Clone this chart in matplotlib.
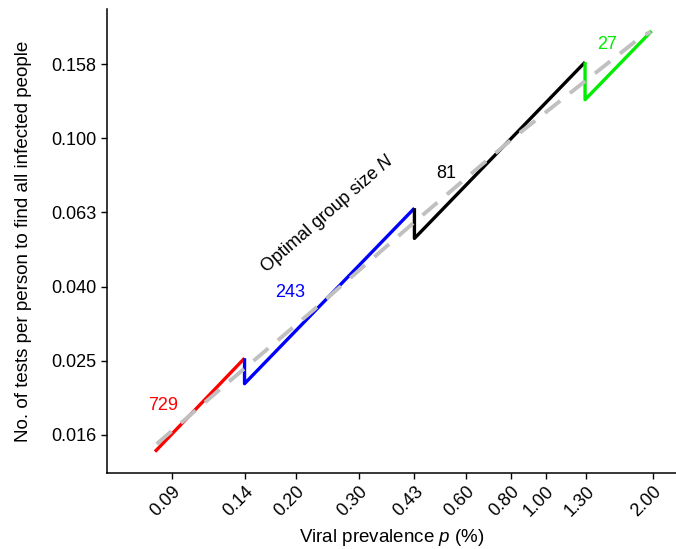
import matplotlib
matplotlib.use("Agg")
import matplotlib.pyplot as plt
import numpy as np

plt.rcParams['font.family'] = ['Liberation Sans', 'DejaVu Sans']
plt.rcParams['mathtext.fontset'] = 'custom'
plt.rcParams['mathtext.it'] = 'Liberation Sans:italic'
plt.rcParams['mathtext.rm'] = 'Liberation Sans'

# Optimal group size segments (prevalence in %, tests per person)
red_p = [0.0809, 0.144]
red_y = [0.01427, 0.0255]
blue_p = [0.144, 0.144, 0.430]
blue_y = [0.0255, 0.02177, 0.0648]
black_p = [0.430, 0.430, 1.29]
black_y = [0.0648, 0.0537, 0.1606]
green_p = [1.29, 1.29, 1.98]
green_y = [0.1606, 0.1272, 0.1949]

# Theoretical bound (dashed grey)
bound_p = [0.0818, 0.1283, 0.2242, 0.4314, 0.8124, 1.837, 1.968]
bound_y = [0.01497, 0.02177, 0.03437, 0.05961, 0.1002, 0.1869, 0.1941]

x_ticks = [0.09, 0.144, 0.20, 0.30, 0.43, 0.60, 0.80, 1.00, 1.30, 2.00]
x_ticklabels = ['0.09', '0.14', '0.20', '0.30', '0.43', '0.60', '0.80', '1.00', '1.30', '2.00']
y_ticks = [10**-0.8, 10**-1.0, 10**-1.2, 10**-1.4, 10**-1.6, 10**-1.8]
y_ticklabels = ['0.158', '0.100', '0.063', '0.040', '0.025', '0.016']

group_labels = ['729', '243', '81', '27']
group_colors = ['#ff0000', '#0000ff', '#000000', '#00ee00']
label_p = [0.0851, 0.1929, 0.5278, 1.485]
label_y = [0.01901, 0.03835, 0.0806, 0.1793]

fig = plt.figure(figsize=(6.76, 5.49), dpi=100)
ax = fig.add_axes([0.1583, 0.139, 0.8417, 0.844])
ax.set_xscale('log')
ax.set_yscale('log')

lw = 2.4
ax.plot(red_p, red_y, color=group_colors[0], lw=lw, zorder=2, solid_capstyle='butt')
ax.plot(blue_p, blue_y, color=group_colors[1], lw=lw, zorder=2, solid_capstyle='butt')
ax.plot(black_p, black_y, color=group_colors[2], lw=lw, zorder=2, solid_capstyle='butt')
ax.plot(green_p, green_y, color=group_colors[3], lw=lw, zorder=2, solid_capstyle='butt')
ax.plot(bound_p, bound_y, color='#c0c0c0', lw=2.8, ls=(0, (5, 3.2)), zorder=3)

for t, c, px, py in zip(group_labels, group_colors, label_p, label_y):
    ax.text(px, py, t, color=c, fontsize=13, ha='center', va='center')

ax.text(0.2461, 0.0625, 'Optimal group size $N$', fontsize=13, rotation=41,
        ha='center', va='center', rotation_mode='anchor')

ax.set_xlim(0.0594, 2.317)
ax.set_ylim(0.01252, 0.2230)
ax.minorticks_off()
ax.set_xticks(x_ticks)
ax.set_xticklabels(x_ticklabels, rotation=45, ha='right', va='top', rotation_mode='anchor')
ax.set_yticks(y_ticks)
ax.set_yticklabels(y_ticklabels)
ax.tick_params(labelsize=13, length=4, width=1.0, colors='black')

for s in ['top', 'right']:
    ax.spines[s].set_visible(False)
for s in ['left', 'bottom']:
    ax.spines[s].set_linewidth(1.1)

ax.set_xlabel('Viral prevalence $p$ (%)', fontsize=13.5, labelpad=5)
ax.set_ylabel('No. of tests per person to find all infected people', fontsize=13.5, labelpad=14)

fig.savefig('out.png', dpi=100)
